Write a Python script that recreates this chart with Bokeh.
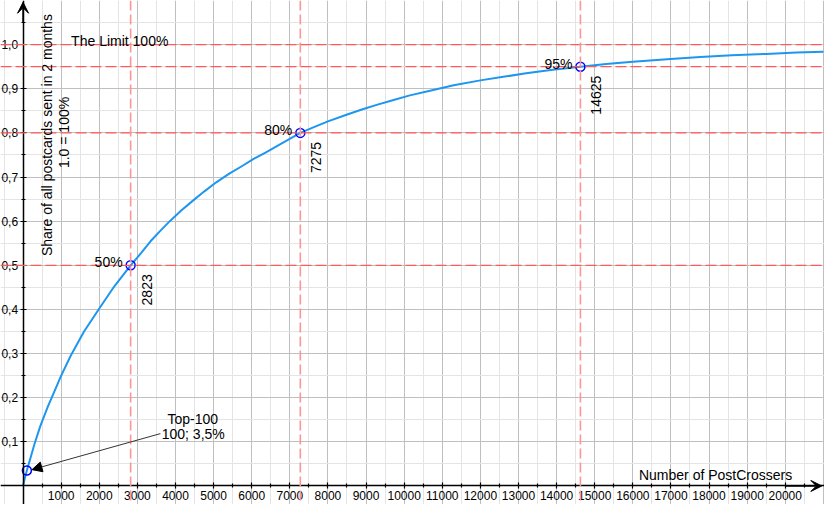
import math
from bokeh.plotting import figure
from bokeh.models import (LinearAxis, FixedTicker, Span, Label, Arrow, VeeHead,
                          NormalHead, Range1d, CustomJSTickFormatter)
from bokeh.embed import file_html
from bokeh.resources import INLINE

# ---- data ----
curve_x = [0, 50, 100, 200, 300, 450, 650, 800, 1000, 1250, 1600, 2000, 2400, 2823,
           3100, 3350, 3600, 3850, 4150, 4450, 4750, 5070, 5400, 5750, 6050, 6350,
           6800, 7275, 7600, 8000, 8450, 8890, 9300, 9700, 10150, 10650, 11300, 12000,
           12600, 13200, 13900, 14625, 15300, 16000, 16900, 17770, 18600, 19500,
           20300, 21000]
curve_y = [0.0, 0.019, 0.035, 0.065, 0.095, 0.135, 0.18, 0.21, 0.25, 0.295, 0.35,
           0.402, 0.453, 0.5, 0.528, 0.555, 0.578, 0.6, 0.624, 0.646, 0.667, 0.688,
           0.707, 0.725, 0.741, 0.755, 0.777, 0.8, 0.812, 0.826, 0.84, 0.853, 0.864,
           0.874, 0.885, 0.895, 0.908, 0.919, 0.927, 0.935, 0.943, 0.95, 0.956, 0.961,
           0.967, 0.972, 0.976, 0.979, 0.982, 0.984]

share_levels = [0.5, 0.8, 0.95]
crosser_counts = [2823, 7275, 14625]
share_labels = ["50%", "80%", "95%"]
count_labels = ["2823", "7275", "14625"]
limit_level = 1.0
limit_label = "The Limit 100%"
top_x = 100
top_y = 0.035
top_label_1 = "Top-100"
top_label_2 = "100; 3,5%"

x_ticks = [1000, 2000, 3000, 4000, 5000, 6000, 7000, 8000, 9000, 10000, 11000,
           12000, 13000, 14000, 15000, 16000, 17000, 18000, 19000, 20000]
x_tick_labels = [str(v) for v in x_ticks]
y_ticks = [0.1, 0.2, 0.3, 0.4, 0.5, 0.6, 0.7, 0.8, 0.9, 1.0]
y_tick_labels = ["0,1", "0,2", "0,3", "0,4", "0,5", "0,6", "0,7", "0,8", "0,9", "1,0"]

FONT = "Liberation Sans"

p = figure(width=824, height=504, x_range=Range1d(-592, 21030),
           y_range=Range1d(-0.042, 1.10), output_backend="svg",
           toolbar_location=None, x_axis_location=None, y_axis_location=None,
           min_border=0)
p.outline_line_color = None
p.background_fill_color = "white"
p.border_fill_color = "white"

# grids
x_major_grid = list(range(-1000, 22000, 1000))
x_minor_grid = list(range(-500, 21500, 1000))
y_major_grid = [i / 10 for i in range(-1, 12)]
y_minor_grid = [i / 10 + 0.05 for i in range(-1, 12)]
p.xgrid.ticker = FixedTicker(ticks=x_major_grid, minor_ticks=x_minor_grid)
p.ygrid.ticker = FixedTicker(ticks=y_major_grid, minor_ticks=y_minor_grid)
for g in (p.xgrid, p.ygrid):
    g.grid_line_color = "#bfbfbf"
    g.grid_line_width = 1
    g.minor_grid_line_color = "#e4e4e4"
    g.minor_grid_line_width = 1

fmt_code = """
let best = 0;
for (let i = 0; i < vals.length; i++) {
  if (Math.abs(vals[i] - tick) < Math.abs(vals[best] - tick)) best = i;
}
return labels[best];
"""

xaxis = LinearAxis(fixed_location=0,
                   ticker=FixedTicker(ticks=x_ticks, minor_ticks=[v - 500 for v in x_ticks] + [20500]),
                   formatter=CustomJSTickFormatter(args=dict(vals=x_ticks, labels=x_tick_labels), code=fmt_code))
yaxis = LinearAxis(fixed_location=0,
                   ticker=FixedTicker(ticks=y_ticks, minor_ticks=[-0.05] + [round(v - 0.05, 2) for v in y_ticks] + [1.05]),
                   formatter=CustomJSTickFormatter(args=dict(vals=y_ticks, labels=y_tick_labels), code=fmt_code))
for ax in (xaxis, yaxis):
    ax.axis_line_color = "black"
    ax.axis_line_width = 1.5
    ax.major_tick_line_color = "black"
    ax.major_tick_line_width = 1.2
    ax.minor_tick_line_color = "black"
    ax.minor_tick_line_width = 1.2
    ax.major_tick_in = 3
    ax.major_tick_out = 3
    ax.minor_tick_in = 2
    ax.minor_tick_out = 2
    ax.major_label_text_font = FONT
    ax.major_label_text_font_size = "12px"
    ax.major_label_text_color = "black"
    ax.major_label_standoff = 2
p.add_layout(xaxis, "below")
p.add_layout(yaxis, "left")

# axis arrows
p.add_layout(Arrow(end=VeeHead(size=11, fill_color="black", line_color="black", line_width=1),
                   x_start=20000, y_start=0, x_end=20960, y_end=0,
                   line_color="black", line_width=1.5))
p.add_layout(Arrow(end=VeeHead(size=11, fill_color="black", line_color="black", line_width=1),
                   x_start=0, y_start=1.05, x_end=0, y_end=1.096,
                   line_color="black", line_width=1.5))

# reference lines
p.add_layout(Span(location=limit_level, dimension="width", line_color="#ff5a5a",
                  line_width=1.3, line_dash="11 4"))
for lvl in share_levels:
    p.add_layout(Span(location=lvl, dimension="width", line_color="#ff5a5a",
                      line_width=1.3, line_dash="11 4"))
for cnt in crosser_counts:
    p.add_layout(Span(location=cnt, dimension="height", line_color="#ff9494",
                      line_width=1.6, line_dash="10 4"))

# curve
p.line(curve_x, curve_y, line_color="#1e96f0", line_width=2, line_join="round")

# points
p.scatter(crosser_counts + [top_x], share_levels + [top_y], marker="circle", size=9,
          line_color="#0000ff", line_width=1.5, fill_color=None)

# labels
def lab(text, x, y, **kw):
    opts = dict(text_font=FONT, text_font_size="14px", text_color="black")
    opts.update(kw)
    p.add_layout(Label(x=x, y=y, text=text, **opts))

for cnt, lvl, s, c in zip(crosser_counts, share_levels, share_labels, count_labels):
    lab(s, cnt, lvl, text_align="right", text_baseline="alphabetic", x_offset=-8, y_offset=3)
    lab(c, cnt, lvl, angle=math.pi / 2, text_align="right", text_baseline="alphabetic",
        x_offset=16, y_offset=-9)

lab(limit_label, 1261, limit_level, text_align="left", text_baseline="alphabetic", y_offset=4)
lab("Share of all postcards sent in 2 months", 618, 0.795, angle=math.pi / 2,
    text_align="center", text_baseline="alphabetic")
lab("1.0 = 100%", 1081, 0.801, angle=math.pi / 2, text_align="center", text_baseline="alphabetic")
lab("Number of PostCrossers", 18172, 0.0, text_align="center", text_baseline="alphabetic",
    y_offset=11)
lab(top_label_1, 4453, 0.151, text_align="center", text_baseline="alphabetic")
lab(top_label_2, 4466, 0.1186, text_align="center", text_baseline="alphabetic")

p.add_layout(Arrow(end=NormalHead(size=10, fill_color="black", line_color="black"),
                   x_start=3604, y_start=0.1186, x_end=top_x + 135, y_end=top_y + 0.002,
                   line_color="#333333", line_width=1))

open("out.html", "w").write(file_html(p, INLINE))
